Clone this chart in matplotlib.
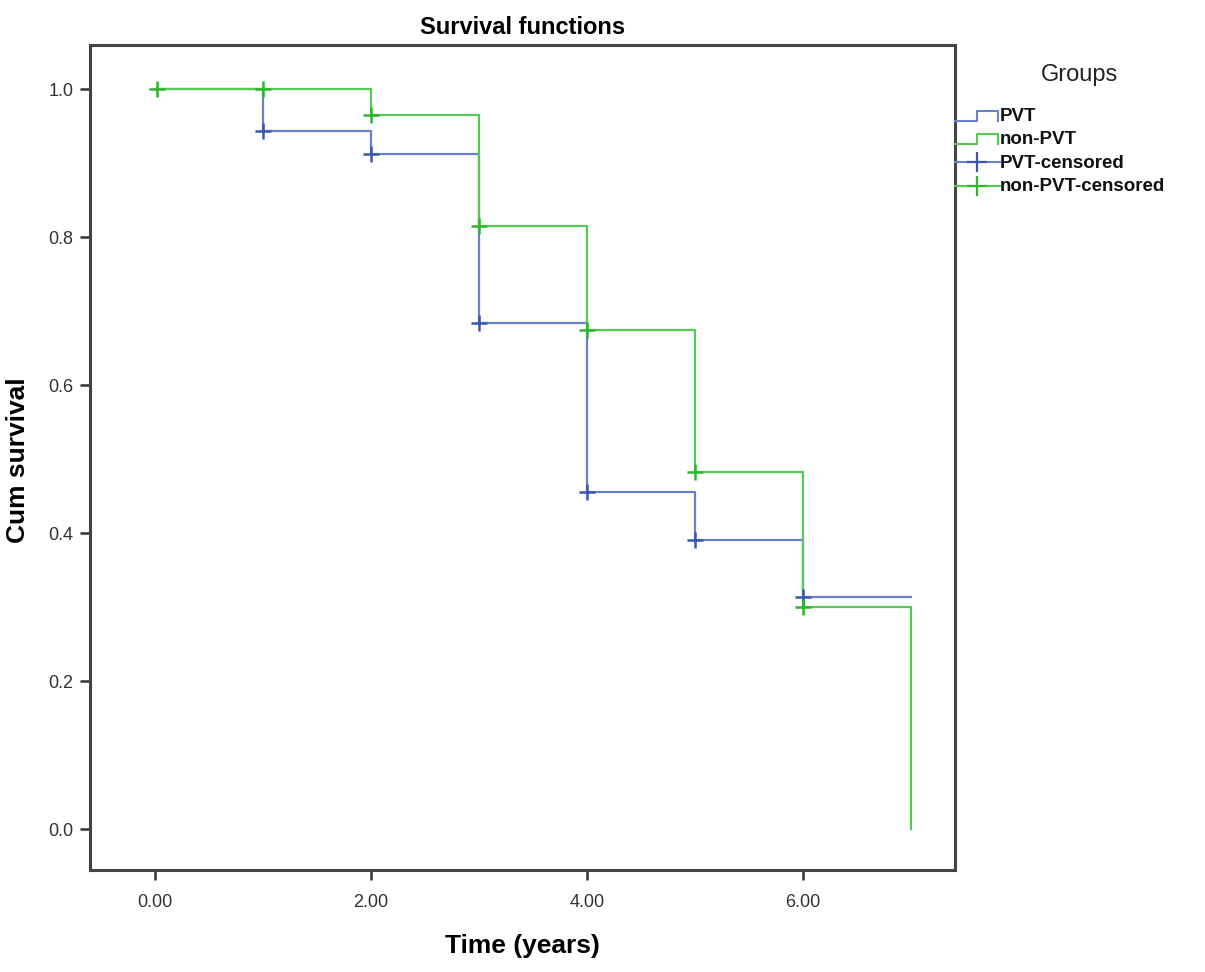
import matplotlib
matplotlib.use("Agg")
import matplotlib.pyplot as plt
from matplotlib.lines import Line2D
from matplotlib.legend_handler import HandlerBase

plt.rcParams['font.family'] = ['Liberation Sans', 'DejaVu Sans']

# Data
pvt_times = [0, 1, 2, 3, 4, 5, 6, 7]
pvt_surv = [1.0, 0.943, 0.912, 0.684, 0.456, 0.391, 0.313, 0.313]
pvt_cens_t = [1, 2, 3, 4, 5, 6]
pvt_cens_s = [0.943, 0.912, 0.684, 0.456, 0.391, 0.313]

non_times = [0, 1, 2, 3, 4, 5, 6, 7]
non_surv = [1.0, 1.0, 0.965, 0.815, 0.674, 0.482, 0.300, 0.0]
non_cens_t = [0.02, 1, 2, 3, 4, 5, 6]
non_cens_s = [1.0, 1.0, 0.965, 0.815, 0.674, 0.482, 0.300]

xticks = [0, 2, 4, 6]
xticklabels = ["0.00", "2.00", "4.00", "6.00"]
yticks = [0.0, 0.2, 0.4, 0.6, 0.8, 1.0]
yticklabels = ["0.0", "0.2", "0.4", "0.6", "0.8", "1.0"]

blue_line = '#6a80cc'
green_line = '#55c955'
blue_mark = '#3d57b0'
green_mark = '#2fb52f'

fig = plt.figure(figsize=(12.05, 9.72), dpi=100)
ax = fig.add_axes([0.0747, 0.1049, 0.7178, 0.8488])

ax.step(pvt_times, pvt_surv, where='post', color=blue_line, lw=1.6)
ax.step(non_times, non_surv, where='post', color=green_line, lw=1.6)
ax.plot(pvt_cens_t, pvt_cens_s, linestyle='none', marker='+', markersize=11,
        mew=1.8, color=blue_mark)
ax.plot(non_cens_t, non_cens_s, linestyle='none', marker='+', markersize=11,
        mew=1.8, color=green_mark)

ax.set_xlim(-0.602, 7.407)
ax.set_ylim(-0.0554, 1.0595)
ax.set_xticks(xticks)
ax.set_xticklabels(xticklabels)
ax.set_yticks(yticks)
ax.set_yticklabels(yticklabels)
ax.tick_params(axis='both', direction='out', length=7, width=1.8, color='#333333',
               labelsize=13, labelcolor='#333333')
ax.tick_params(axis='x', pad=10)
ax.tick_params(axis='y', pad=5)
for sp in ax.spines.values():
    sp.set_linewidth(2.2)
    sp.set_color('#444444')

ax.set_title("Survival functions", fontsize=17, fontweight='bold', pad=8)
ax.set_xlabel("Time (years)", fontsize=19, fontweight='bold')
ax.xaxis.set_label_coords(0.5, -0.078)
ax.set_ylabel("Cum survival", fontsize=19, fontweight='bold')
ax.yaxis.set_label_coords(-0.069, 0.497)


class HandlerStep(HandlerBase):
    def create_artists(self, legend, orig_handle, xdescent, ydescent,
                       width, height, fontsize, trans):
        xs = [-xdescent, -xdescent + width * 0.5, -xdescent + width * 0.5,
              -xdescent + width * 0.95, -xdescent + width * 0.95]
        y0 = -ydescent + height * 0.0
        y1 = -ydescent + height * 0.8
        ys = [y0, y0, y1, y1, y0]
        ln = Line2D(xs, ys, color=orig_handle.get_color(), lw=1.5, transform=trans)
        return [ln]


class HandlerCens(HandlerBase):
    def create_artists(self, legend, orig_handle, xdescent, ydescent,
                       width, height, fontsize, trans):
        ym = -ydescent + height * 0.4
        ln = Line2D([-xdescent, -xdescent + width], [ym, ym],
                    color=orig_handle.get_color(), lw=1.5, transform=trans)
        mk = Line2D([-xdescent + width * 0.5], [ym], marker='+', markersize=14,
                    mew=1.6, linestyle='none', color=orig_handle.get_markeredgecolor(),
                    transform=trans)
        return [ln, mk]


h1 = Line2D([], [], color=blue_line)
h2 = Line2D([], [], color=green_line)
h3 = Line2D([], [], color=blue_line, markeredgecolor=blue_mark)
h4 = Line2D([], [], color=green_line, markeredgecolor=green_mark)

fig.text(1080 / 1205, 1 - 75 / 972, "Groups", fontsize=17, color='#222222',
         ha='center', va='center')

leg = fig.legend([h1, h2, h3, h4], ["PVT", "non-PVT", "PVT-censored", "non-PVT-censored"],
                 handler_map={h1: HandlerStep(), h2: HandlerStep(),
                              h3: HandlerCens(), h4: HandlerCens()},
                 loc='upper left', bbox_to_anchor=(0.7925, 0.889), frameon=False,
                 fontsize=13.5,
                 handlelength=2.4, handletextpad=0.0, labelspacing=0.33,
                 borderaxespad=0.0, borderpad=0.0)
for t in leg.get_texts():
    t.set_fontweight('semibold')
    t.set_color('#111111')

fig.savefig("out.png", dpi=100)
